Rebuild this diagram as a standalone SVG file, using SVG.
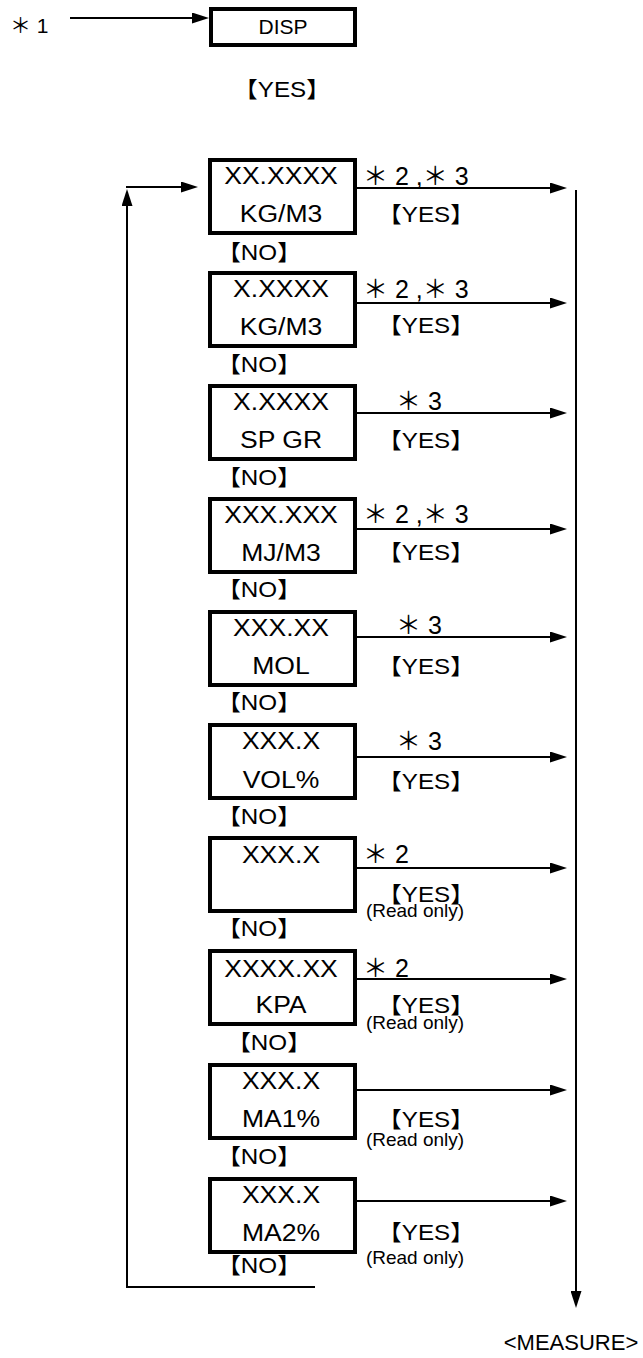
<svg xmlns="http://www.w3.org/2000/svg" width="643" height="1358" viewBox="0 0 643 1358">
<style>
text{font-family:"Liberation Sans","Noto Sans CJK JP",Arial,sans-serif;fill:#000}
.box{fill:#fff;stroke:#000;stroke-width:4}
.bt{font-size:23.5px;text-anchor:middle}
.yn{font-size:22px;text-anchor:middle}
.st{font-size:25px}
.ro{font-size:19px;text-anchor:middle}
.ln{fill:none;stroke:#000;stroke-width:2}
</style>
<defs>
<marker id="ah" markerUnits="userSpaceOnUse" markerWidth="17" markerHeight="11" refX="1" refY="5.5" orient="auto">
<path d="M0,0 L17,5.5 L0,11 z" fill="#000"/>
</marker>
</defs>
<g id="connectors">
<line class="ln" x1="70" y1="18" x2="193" y2="18" marker-end="url(#ah)"/>
<line class="ln" x1="127" y1="1287" x2="127" y2="205" marker-end="url(#ah)"/>
<line class="ln" x1="126" y1="187" x2="182" y2="187" marker-end="url(#ah)"/>
<line class="ln" x1="126" y1="1287" x2="315" y2="1287"/>
<line class="ln" x1="576" y1="190" x2="576" y2="1292" marker-end="url(#ah)"/>
<line class="ln" x1="357" y1="188" x2="551" y2="188" marker-end="url(#ah)"/>
<line class="ln" x1="357" y1="303" x2="551" y2="303" marker-end="url(#ah)"/>
<line class="ln" x1="357" y1="413" x2="551" y2="413" marker-end="url(#ah)"/>
<line class="ln" x1="357" y1="529" x2="551" y2="529" marker-end="url(#ah)"/>
<line class="ln" x1="357" y1="637" x2="551" y2="637" marker-end="url(#ah)"/>
<line class="ln" x1="357" y1="757" x2="551" y2="757" marker-end="url(#ah)"/>
<line class="ln" x1="357" y1="868" x2="551" y2="868" marker-end="url(#ah)"/>
<line class="ln" x1="357" y1="979" x2="551" y2="979" marker-end="url(#ah)"/>
<line class="ln" x1="357" y1="1090" x2="551" y2="1090" marker-end="url(#ah)"/>
<line class="ln" x1="357" y1="1201" x2="551" y2="1201" marker-end="url(#ah)"/>
</g>
<g id="labels">
<text x="10" y="33" style="font-size:21px">＊ 1</text>
<text class="yn" transform="matrix(1.1,0,0,1,282,0)" x="0" y="97">【YES】</text>
<text class="st" x="363" y="185">＊ 2 ,＊ 3</text>
<text class="st" x="363" y="298">＊ 2 ,＊ 3</text>
<text class="st" x="396" y="410">＊ 3</text>
<text class="st" x="363" y="523">＊ 2 ,＊ 3</text>
<text class="st" x="396" y="634">＊ 3</text>
<text class="st" x="396" y="750">＊ 3</text>
<text class="st" x="363" y="863">＊ 2</text>
<text class="st" x="363" y="977">＊ 2</text>
<text class="yn" transform="matrix(1.1,0,0,1,426,0)" x="0" y="222">【YES】</text>
<text class="yn" transform="matrix(1.1,0,0,1,426,0)" x="0" y="333">【YES】</text>
<text class="yn" transform="matrix(1.1,0,0,1,426,0)" x="0" y="448">【YES】</text>
<text class="yn" transform="matrix(1.1,0,0,1,426,0)" x="0" y="560">【YES】</text>
<text class="yn" transform="matrix(1.1,0,0,1,426,0)" x="0" y="674">【YES】</text>
<text class="yn" transform="matrix(1.1,0,0,1,426,0)" x="0" y="789">【YES】</text>
<text class="yn" transform="matrix(1.1,0,0,1,426,0)" x="0" y="902">【YES】</text>
<text class="yn" transform="matrix(1.1,0,0,1,426,0)" x="0" y="1013">【YES】</text>
<text class="yn" transform="matrix(1.1,0,0,1,426,0)" x="0" y="1127">【YES】</text>
<text class="yn" transform="matrix(1.1,0,0,1,426,0)" x="0" y="1240">【YES】</text>
<text class="ro" x="415" y="917">(Read only)</text>
<text class="ro" x="415" y="1029">(Read only)</text>
<text class="ro" x="415" y="1146">(Read only)</text>
<text class="ro" x="415" y="1264">(Read only)</text>
<text class="yn" transform="matrix(1.1,0,0,1,259,0)" x="0" y="260">【NO】</text>
<text class="yn" transform="matrix(1.1,0,0,1,259,0)" x="0" y="372">【NO】</text>
<text class="yn" transform="matrix(1.1,0,0,1,259,0)" x="0" y="485">【NO】</text>
<text class="yn" transform="matrix(1.1,0,0,1,259,0)" x="0" y="597">【NO】</text>
<text class="yn" transform="matrix(1.1,0,0,1,259,0)" x="0" y="710">【NO】</text>
<text class="yn" transform="matrix(1.1,0,0,1,259,0)" x="0" y="824">【NO】</text>
<text class="yn" transform="matrix(1.1,0,0,1,259,0)" x="0" y="936">【NO】</text>
<text class="yn" transform="matrix(1.1,0,0,1,269,0)" x="0" y="1050">【NO】</text>
<text class="yn" transform="matrix(1.1,0,0,1,259,0)" x="0" y="1164">【NO】</text>
<text class="yn" transform="matrix(1.1,0,0,1,259,0)" x="0" y="1273">【NO】</text>
<text x="571" y="1350" style="font-size:22px;text-anchor:middle">&lt;MEASURE&gt;</text>
</g>
<g id="disp">
<rect class="box" x="211" y="9" width="144" height="36"/>
<text x="283" y="34" style="font-size:21px;text-anchor:middle">DISP</text>
</g>
<g id="box1">
<rect class="box" x="210" y="160" width="145" height="73"/>
<text class="bt" transform="matrix(1.13,0,0,1,281,0)" x="0" y="184">XX.XXXX</text>
<text class="bt" transform="matrix(1.13,0,0,1,281,0)" x="0" y="222">KG/M3</text>
</g>
<g id="box2">
<rect class="box" x="210" y="273" width="145" height="73"/>
<text class="bt" transform="matrix(1.13,0,0,1,281,0)" x="0" y="297">X.XXXX</text>
<text class="bt" transform="matrix(1.13,0,0,1,281,0)" x="0" y="335">KG/M3</text>
</g>
<g id="box3">
<rect class="box" x="210" y="386" width="145" height="73"/>
<text class="bt" transform="matrix(1.13,0,0,1,281,0)" x="0" y="410">X.XXXX</text>
<text class="bt" transform="matrix(1.13,0,0,1,281,0)" x="0" y="448">SP GR</text>
</g>
<g id="box4">
<rect class="box" x="210" y="499" width="145" height="73"/>
<text class="bt" transform="matrix(1.13,0,0,1,281,0)" x="0" y="523">XXX.XXX</text>
<text class="bt" transform="matrix(1.13,0,0,1,281,0)" x="0" y="561">MJ/M3</text>
</g>
<g id="box5">
<rect class="box" x="210" y="612" width="145" height="73"/>
<text class="bt" transform="matrix(1.13,0,0,1,281,0)" x="0" y="636">XXX.XX</text>
<text class="bt" transform="matrix(1.13,0,0,1,281,0)" x="0" y="674">MOL</text>
</g>
<g id="box6">
<rect class="box" x="210" y="725" width="145" height="73"/>
<text class="bt" transform="matrix(1.13,0,0,1,281,0)" x="0" y="749">XXX.X</text>
<text class="bt" transform="matrix(1.13,0,0,1,281,0)" x="0" y="788">VOL%</text>
</g>
<g id="box7">
<rect class="box" x="210" y="838" width="145" height="73"/>
<text class="bt" transform="matrix(1.13,0,0,1,281,0)" x="0" y="863">XXX.X</text>
</g>
<g id="box8">
<rect class="box" x="210" y="951" width="145" height="73"/>
<text class="bt" transform="matrix(1.13,0,0,1,281,0)" x="0" y="977">XXXX.XX</text>
<text class="bt" transform="matrix(1.13,0,0,1,281,0)" x="0" y="1013">KPA</text>
</g>
<g id="box9">
<rect class="box" x="210" y="1065" width="145" height="73"/>
<text class="bt" transform="matrix(1.13,0,0,1,281,0)" x="0" y="1089">XXX.X</text>
<text class="bt" transform="matrix(1.13,0,0,1,281,0)" x="0" y="1127">MA1%</text>
</g>
<g id="box10">
<rect class="box" x="210" y="1179" width="145" height="73"/>
<text class="bt" transform="matrix(1.13,0,0,1,281,0)" x="0" y="1203">XXX.X</text>
<text class="bt" transform="matrix(1.13,0,0,1,281,0)" x="0" y="1241">MA2%</text>
</g>
</svg>
